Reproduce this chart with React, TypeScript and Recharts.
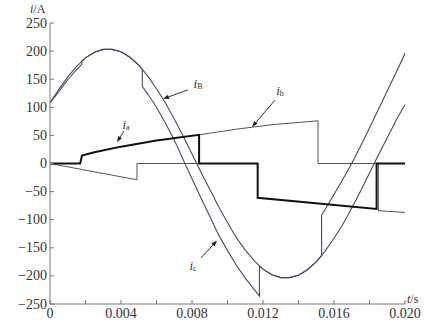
import React from 'react';
import { LineChart, Line, XAxis, YAxis, ReferenceLine, ReferenceDot } from 'recharts';

// time axis (s) and tick values
const xTicks = [0, 0.002, 0.004, 0.006, 0.008, 0.01, 0.012, 0.014, 0.016, 0.018, 0.02];
const yTicks = [-250, -200, -150, -100, -50, 0, 50, 100, 150, 200, 250];

// i_B : the full sine wave
const iBigT = [0, 0.0005, 0.001, 0.0015, 0.002, 0.0025, 0.003, 0.0035, 0.004, 0.0045, 0.005, 0.0055, 0.006, 0.0065,
  0.007, 0.0075, 0.008, 0.0085, 0.009, 0.0095, 0.01, 0.0105, 0.011, 0.0115, 0.012, 0.0125, 0.013, 0.0135, 0.014,
  0.0145, 0.015, 0.0155, 0.016, 0.0165, 0.017, 0.0175, 0.018, 0.0185, 0.019, 0.0195, 0.02];
const iBigV = [108, 132, 154, 173, 188, 198, 203, 203, 199, 189, 175, 156, 133, 108,
  79, 49, 17, -15, -46, -77, -105, -132, -154, -173, -188, -198, -203, -203, -199,
  -189, -175, -156, -133, -108, -79, -49, -17, 15, 46, 77, 105];

// i_c : switched wave
const icT = [0, 0.0005, 0.001, 0.0015, 0.0018, 0.0018, 0.002, 0.0025, 0.003, 0.0035, 0.004, 0.0045, 0.005, 0.0052,
  0.0052, 0.0055, 0.006, 0.0065, 0.007, 0.0075, 0.008, 0.0085, 0.009, 0.0095, 0.01, 0.0105, 0.011, 0.0115, 0.0118,
  0.0118, 0.012, 0.0125, 0.013, 0.0135, 0.014, 0.0145, 0.015, 0.0153, 0.0153, 0.0155, 0.016, 0.0165, 0.017,
  0.0175, 0.018, 0.0185, 0.019, 0.0195, 0.02];
const icV = [108, 128, 149, 167, 177, 183, 188, 198, 203, 203, 199, 189, 175, 167,
  137, 124, 100, 72, 42, 7, -27, -61, -94, -127, -155, -181, -204, -224, -236,
  -183, -188, -198, -203, -203, -199, -189, -175, -164, -92, -82, -55, -28, 0,
  31, 63, 96, 129, 162, 196];

// i_a : thick black
const iaT = [0, 0.0017, 0.0018, 0.0025, 0.004, 0.006, 0.0084, 0.0084, 0.0117, 0.0117, 0.0184, 0.0184, 0.02];
const iaV = [0, 0, 14, 20, 30, 41, 51, 0, 0, -61, -81, 0, 0];

// i_b : thin
const ibT = [0, 0.0049, 0.0049, 0.0084, 0.0084, 0.0105, 0.0125, 0.0151, 0.0151, 0.0185, 0.0185, 0.02];
const ibV = [0, -29, 0, 0, 51, 61, 69, 76, 0, 0, -84, -87];

const zip = (t: number[], v: number[]) => t.map((x, i) => ({ t: x, v: v[i] }));

const bigData = zip(iBigT, iBigV);
const icData = zip(icT, icV);
const iaData = zip(iaT, iaV);
const ibData = zip(ibT, ibV);

// annotation arrows: [tail, tip] and label anchor
const notes = [
  { name: 'B', tail: [0.00777, 131], tip: [0.00637, 115], at: [0.00834, 143] },
  { name: 'a', tail: [0.00417, 58], tip: [0.00377, 38], at: [0.00428, 70] },
  { name: 'b', tail: [0.01268, 113], tip: [0.01138, 65], at: [0.01296, 131] },
  { name: 'c', tail: [0.00851, -168], tip: [0.00941, -137], at: [0.00806, -181] },
];

const font = '"Liberation Serif", "DejaVu Serif", serif';
const textColor = '#333';
const waveColor = '#4a4a66';
const axisColor = '#777';
const TICK = 4;

const xLabel = (v: number) => {
  const k = Math.round(v * 1000);
  if (k % 4 !== 0) return '';
  return k === 0 ? '0' : v.toFixed(3);
};
const yLabel = (v: number) => (v < 0 ? '\u2212' + Math.abs(v) : String(v));

// tick renderers: label (if any) outside, short mark pointing into the plot
const BottomTick = (p: any) => {
  const x = p.x, y0 = p.y - (p.tickMargin ?? 0);
  return (
    <g>
      <line x1={x} y1={y0} x2={x} y2={y0 - TICK} stroke={axisColor} />
      <text x={x} y={y0 + 4} textAnchor="middle" dominantBaseline="hanging" fontFamily={font} fontSize={14} fill={textColor}>
        {xLabel(p.payload.value)}
      </text>
    </g>
  );
};
const TopTick = (p: any) => {
  const x = p.x, y0 = p.y + (p.tickMargin ?? 0);
  return <line x1={x} y1={y0} x2={x} y2={y0 + TICK} stroke={axisColor} />;
};
const LeftTick = (p: any) => {
  const y = p.y, x0 = p.x + (p.tickMargin ?? 0);
  return (
    <g>
      <line x1={x0} y1={y} x2={x0 + TICK} y2={y} stroke={axisColor} />
      <text x={x0 - 3} y={y} textAnchor="end" dominantBaseline="central" fontFamily={font} fontSize={14} fill={textColor}>
        {yLabel(p.payload.value)}
      </text>
    </g>
  );
};
const RightTick = (p: any) => {
  const y = p.y, x0 = p.x - (p.tickMargin ?? 0);
  return <line x1={x0} y1={y} x2={x0 - TICK} y2={y} stroke={axisColor} />;
};

const Arrow = (props: any) => {
  const { x1, y1, x2, y2 } = props;
  const ang = Math.atan2(y2 - y1, x2 - x1);
  const len = 6, w = 2.2;
  const bx = x2 - len * Math.cos(ang), by = y2 - len * Math.sin(ang);
  const px = -Math.sin(ang) * w, py = Math.cos(ang) * w;
  return (
    <g>
      <line x1={x1} y1={y1} x2={bx} y2={by} stroke="#333" strokeWidth={1} />
      <polygon points={`${x2},${y2} ${bx + px},${by + py} ${bx - px},${by - py}`} fill="#222" />
    </g>
  );
};

const noteLabel = (sub: string) => (props: any) => {
  const vb = props.viewBox || {};
  return (
    <text x={vb.x} y={vb.y} textAnchor="middle" dominantBaseline="central" fontFamily={font} fill={textColor}>
      <tspan fontStyle="italic" fontSize={13}>i</tspan>
      <tspan fontSize={8} dy={3}>{sub}</tspan>
    </text>
  );
};

export default function App() {
  return (
    <div style={{ position: 'absolute', left: 0, top: 0, width: 425, height: 326, background: '#fff' }}>
      <LineChart width={425} height={326} data={bigData} margin={{ top: 23, right: 20, bottom: 0, left: 0 }}>
        <XAxis dataKey="t" type="number" domain={[0, 0.02]} ticks={xTicks} interval={0}
          height={22} stroke={axisColor} tickLine={false} tickSize={0} tickMargin={0} allowDataOverflow
          tick={<BottomTick />} />
        <XAxis xAxisId="top" orientation="top" dataKey="t" type="number" domain={[0, 0.02]} ticks={xTicks} interval={0}
          height={0} stroke={axisColor} tickLine={false} tickSize={0} tickMargin={0} allowDataOverflow
          tick={<TopTick />} />
        <YAxis type="number" domain={[-250, 250]} ticks={yTicks} width={50} interval={0}
          stroke={axisColor} tickLine={false} tickSize={0} tickMargin={0} allowDataOverflow
          tick={<LeftTick />} />
        <YAxis yAxisId="right" orientation="right" type="number" domain={[-250, 250]} ticks={yTicks} interval={0}
          width={0} stroke={axisColor} tickLine={false} tickSize={0} tickMargin={0} allowDataOverflow
          tick={<RightTick />} />
        <Line data={ibData} dataKey="v" stroke="#555" strokeWidth={1} dot={false} isAnimationActive={false} />
        <Line data={bigData} dataKey="v" stroke={waveColor} strokeWidth={1.1} dot={false} isAnimationActive={false} />
        <Line data={icData} dataKey="v" stroke={waveColor} strokeWidth={1.1} dot={false} isAnimationActive={false} />
        <Line data={iaData} dataKey="v" stroke="#111" strokeWidth={2} dot={false} isAnimationActive={false} />
        {notes.map((n) => (
          <ReferenceLine key={'l' + n.name}
            segment={[{ x: n.tail[0], y: n.tail[1] }, { x: n.tip[0], y: n.tip[1] }]}
            shape={Arrow} />
        ))}
        {notes.map((n) => (
          <ReferenceDot key={'d' + n.name} x={n.at[0]} y={n.at[1]} r={0} stroke="none" fill="none"
            label={noteLabel(n.name)} />
        ))}
      </LineChart>
      <svg width={425} height={326} style={{ position: 'absolute', left: 0, top: 0, pointerEvents: 'none' }}>
        <text x={30} y={13} fontFamily={font} fontSize={12} fill={textColor}>
          <tspan fontStyle="italic">i</tspan>/A
        </text>
        <text x={407} y={303} fontFamily={font} fontSize={12} fill={textColor}>
          <tspan fontStyle="italic">t</tspan>/s
        </text>
      </svg>
    </div>
  );
}
